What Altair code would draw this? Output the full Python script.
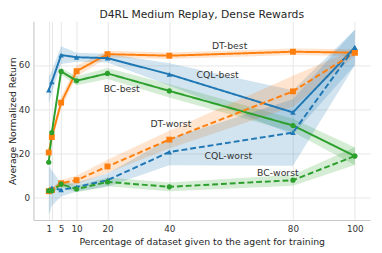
import altair as alt
import pandas as pd

x_vals = [1, 2, 5, 10, 20, 40, 80, 100]

dt_best = [20.5, 27.5, 43.0, 57.2, 64.9, 64.2, 66.0, 65.6]
dt_best_ci = [1.5, 2.0, 2.5, 2.5, 1.5, 1.5, 1.5, 1.5]
cql_best = [48.7, 52.4, 64.5, 63.5, 63.1, 55.8, 38.6, 67.9]
cql_best_ci = [6.0, 5.0, 4.0, 2.0, 2.0, 5.0, 10.0, 8.0]
bc_best = [16.1, 29.5, 57.1, 52.9, 56.2, 48.3, 32.7, 18.9]
bc_best_ci = [1.0, 1.5, 1.5, 2.0, 2.5, 3.0, 3.0, 4.0]

dt_worst = [3.0, 3.5, 6.6, 8.0, 14.2, 26.3, 48.1, 65.6]
dt_worst_ci = [1.0, 1.0, 1.5, 2.0, 3.0, 4.0, 7.0, 1.5]
cql_worst = [3.5, 4.5, 3.6, 4.9, 8.0, 20.7, 29.5, 67.9]
cql_worst_ci = [11.0, 8.0, 3.0, 2.0, 3.0, 6.0, 15.0, 8.0]
bc_worst = [3.2, 3.2, 6.2, 4.0, 7.2, 5.0, 8.0, 18.9]
bc_worst_ci = [1.0, 1.0, 1.5, 1.5, 2.0, 2.0, 2.5, 4.0]

label_text = ["DT-best", "CQL-best", "BC-best", "DT-worst", "CQL-worst", "BC-worst"]
label_x = [59.5, 55.6, 24.6, 40.5, 59.1, 75.1]
label_y = [68.4, 55.4, 49.2, 33.4, 18.9, 11.0]

tick_values = [1, 2, 5, 10, 20, 40, 80, 100]

series = [
    ("DT", "best", dt_best, dt_best_ci),
    ("CQL", "best", cql_best, cql_best_ci),
    ("BC", "best", bc_best, bc_best_ci),
    ("DT", "worst", dt_worst, dt_worst_ci),
    ("CQL", "worst", cql_worst, cql_worst_ci),
    ("BC", "worst", bc_worst, bc_worst_ci),
]
rows = []
for algo, kind, vals, ci in series:
    for xv, v, c in zip(x_vals, vals, ci):
        rows.append({"algo": algo, "kind": kind, "name": f"{algo}-{kind}",
                     "x": xv, "y": v, "lo": v - c, "hi": v + c})
df = pd.DataFrame(rows)
labels = pd.DataFrame({"t": label_text, "x": label_x, "y": label_y})

algo_dom = ["DT", "CQL", "BC"]
colors = ["#ff7f0e", "#1f77b4", "#2ca02c"]
color = alt.Color("algo:N", scale=alt.Scale(domain=algo_dom, range=colors), legend=None)

xs = alt.Scale(domain=[-3.95, 104.95], nice=False, zero=False)
ys = alt.Scale(domain=[-10, 79.7], nice=False, zero=False)

H = 203
xaxis = alt.Axis(values=tick_values, labelExpr="datum.value == 2 ? '' : datum.label",
                 title="Percentage of dataset given to the agent for training",
                 grid=True, tickSize=0, labelPadding=5, titlePadding=3)
yaxis = alt.Axis(values=[0, 20, 40, 60], title="Average Normalized Return",
                 grid=True, tickSize=0, labelPadding=4,
                 titleX=-21, titleY=H / 2, titleAlign="center", titleBaseline="middle")

base = alt.Chart(df)

bands = base.mark_area(opacity=0.2, interpolate="linear").encode(
    x=alt.X("x:Q", scale=xs, axis=xaxis),
    y=alt.Y("lo:Q", scale=ys, axis=yaxis),
    y2="hi:Q",
    color=color,
    detail="name:N",
)

lines = base.mark_line(strokeWidth=2).encode(
    x=alt.X("x:Q", scale=xs),
    y=alt.Y("y:Q", scale=ys),
    color=color,
    detail="name:N",
    strokeDash=alt.StrokeDash("kind:N", scale=alt.Scale(domain=["best", "worst"],
                                                         range=[[1, 0], [6, 3]]), legend=None),
)

points = base.mark_point(filled=True, opacity=1).encode(
    x=alt.X("x:Q", scale=xs),
    y=alt.Y("y:Q", scale=ys),
    color=color,
    shape=alt.Shape("algo:N", scale=alt.Scale(domain=algo_dom,
                                               range=["square", "triangle-up", "circle"]), legend=None),
    size=alt.Size("algo:N", scale=alt.Scale(domain=algo_dom, range=[36, 28, 40]), legend=None),
)

texts = alt.Chart(labels).mark_text(fontSize=9.5, color="#333333", font="DejaVu Sans").encode(
    x=alt.X("x:Q", scale=xs),
    y=alt.Y("y:Q", scale=ys),
    text="t:N",
)

chart = alt.layer(bands, lines, points, texts).properties(
    width=344, height=H,
    autosize=alt.AutoSizeParams(type="none"),
    padding={"left": 26, "top": 11, "right": 4, "bottom": 30},
    title=alt.TitleParams("D4RL Medium Replay, Dense Rewards", fontSize=11,
                          font="DejaVu Sans", fontWeight="normal", color="#262626", offset=1),
).configure_view(stroke=None).configure_axis(
    labelFont="DejaVu Sans", titleFont="DejaVu Sans", labelFontSize=9, titleFontSize=9.5,
    labelColor="#333333", titleColor="#262626", titleFontWeight="normal",
    gridColor="#e6e6e6", gridWidth=1, domainColor="#c8c8c8", domainWidth=1.2,
).configure_axisY(domain=True).configure_axisX(domain=True)

chart.save("out.html", embed_options={"renderer": "svg", "actions": False})
